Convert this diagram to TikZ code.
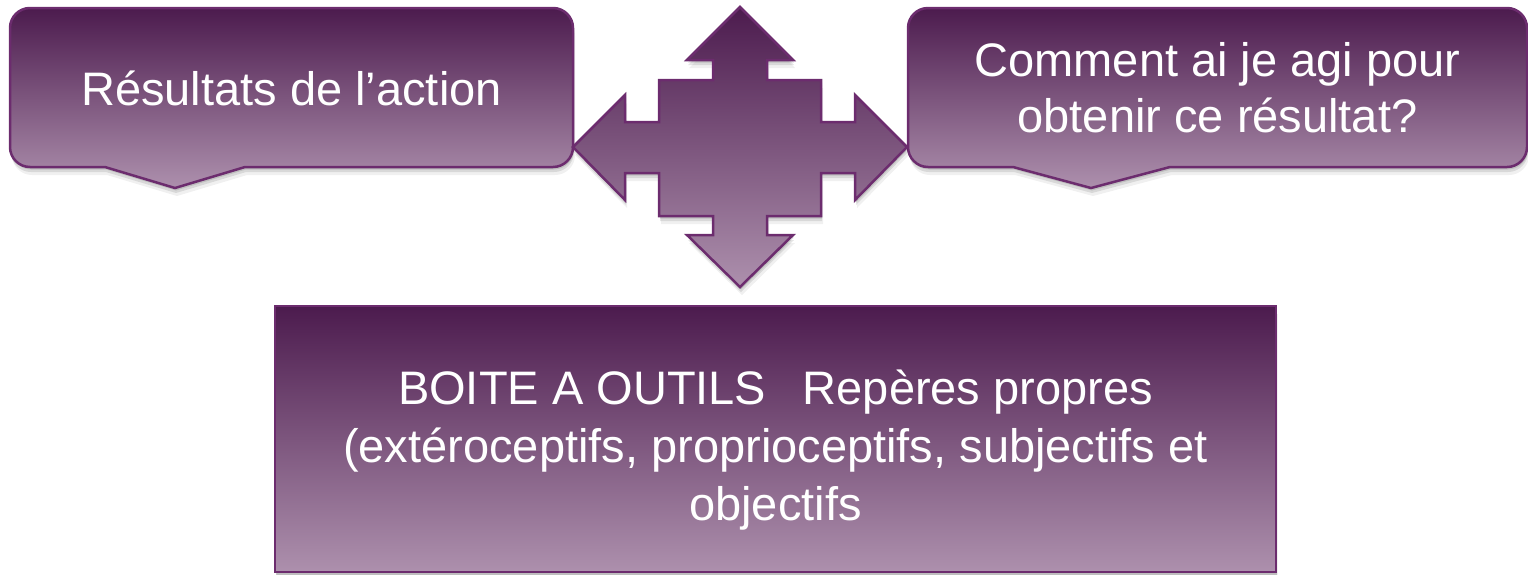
\documentclass[tikz,border=0pt]{standalone}
\usepackage{fontspec}
\setmainfont{Liberation Sans}
\usetikzlibrary{shadows}
\definecolor{ptop}{RGB}{76,27,78}
\definecolor{pbot}{RGB}{173,144,173}
\definecolor{pline}{RGB}{108,44,110}
\tikzset{
  softshadow/.style={
    general shadow={fill=black, opacity=0.06, shadow xshift=2pt, shadow yshift=-8pt},
    general shadow={fill=black, opacity=0.10, shadow xshift=1pt, shadow yshift=-5pt},
    general shadow={fill=black, opacity=0.12, shadow xshift=1pt, shadow yshift=-2.5pt}},
  shapefill/.style={top color=ptop, bottom color=pbot, draw=pline, line width=2.5pt, line join=miter, softshadow},
  lbl/.style={text=white, font=\fontsize{47}{56}\selectfont, align=center, inner sep=0pt},
  lblbox/.style={lbl, font=\fontsize{47}{58}\selectfont},
}
\begin{document}
\begin{tikzpicture}[x=1pt,y=-1pt]
\useasboundingbox (0,0) rectangle (1528,574);
% left callout
\draw[shapefill] (30,8) -- (553,8) arc[start angle=-90, end angle=0, radius=20]
  -- (573,147) arc[start angle=0, end angle=90, radius=20]
  -- (245,167) -- (175,188) -- (105,167) -- (30,167)
  arc[start angle=90, end angle=180, radius=20]
  -- (10,28) arc[start angle=180, end angle=270, radius=20] -- cycle;
% right callout
\draw[shapefill] (928,8) -- (1507,8) arc[start angle=-90, end angle=0, radius=20]
  -- (1527,147) arc[start angle=0, end angle=90, radius=20]
  -- (1170,167) -- (1091,188) -- (1013,167) -- (928,167)
  arc[start angle=90, end angle=180, radius=20]
  -- (908,28) arc[start angle=180, end angle=270, radius=20] -- cycle;
% quad arrow
\draw[shapefill] (740,7) -- (793,60) -- (767,60) -- (767,80) -- (821,80) -- (821,122)
  -- (855,122) -- (855,95) -- (907,147) -- (855,200) -- (855,173) -- (821,173)
  -- (821,216) -- (767,216) -- (767,235) -- (793,235) -- (740,287) -- (687,235)
  -- (713,235) -- (713,216) -- (659,216) -- (659,173) -- (625,173) -- (625,200)
  -- (573,147) -- (625,95) -- (625,122) -- (659,122) -- (659,80) -- (713,80)
  -- (713,60) -- (687,60) -- cycle;
% bottom box
\node[shapefill, rectangle, minimum width=1001pt, minimum height=266pt, inner sep=0pt] (box) at (775.5,439) {};
% texts
\node[lbl] (t1) at (291.5,88) {Résultats de l’action};
\node[lbl] (t2) at (1217.5,88) {Comment ai je agi pour\\obtenir ce résultat?};
\node[lblbox] (t3) at (775.5,450) {BOITE A OUTILS\enspace\ Repères propres\\(extéroceptifs, proprioceptifs, subjectifs et\\objectifs};
\end{tikzpicture}
\end{document}
